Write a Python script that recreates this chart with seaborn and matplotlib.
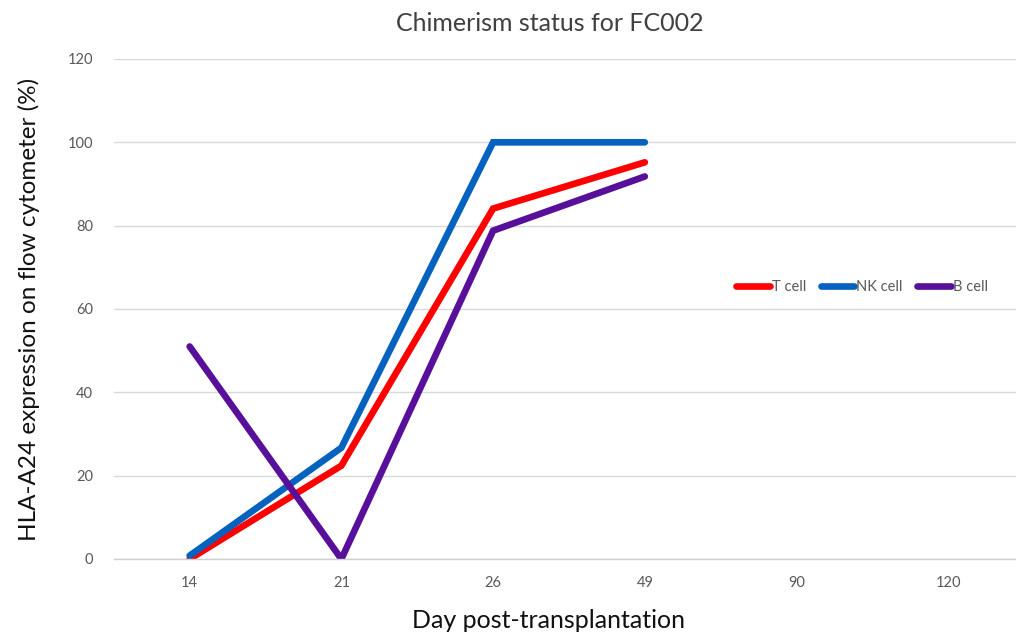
import numpy as np
import pandas as pd
import matplotlib
matplotlib.use("Agg")
import matplotlib.pyplot as plt
import seaborn as sns

# Days after transplantation (category axis) and chimerism values per lineage
days = ["14", "21", "26", "49", "90", "120"]
t_cell = [0.0, 22.4, 84.1, 95.2, np.nan, np.nan]
nk_cell = [0.8, 26.7, 100.0, 100.0, np.nan, np.nan]
b_cell = [51.0, 0.0, 78.8, 91.8, np.nan, np.nan]
series_names = ["T cell", "NK cell", "B cell"]
y_ticks = [0, 20, 40, 60, 80, 100, 120]

colors = {"T cell": "#FF0000", "NK cell": "#0562BE", "B cell": "#58109A"}

sns.set_theme(style="white")
plt.rcParams["font.family"] = ["Lato", "DejaVu Sans"]

pos = np.arange(len(days))
df = pd.DataFrame({
    "pos": np.concatenate([pos, pos, pos]),
    "value": np.concatenate([t_cell, nk_cell, b_cell]),
    "cell": np.repeat(series_names, len(days)),
}).dropna()

fig = plt.figure(figsize=(10.16, 6.39), dpi=100)
ax = fig.add_axes([0.112, 0.1252, 0.896, 0.7825])

sns.lineplot(data=df, x="pos", y="value", hue="cell", hue_order=series_names,
             palette=colors, linewidth=4.8, ax=ax, legend=False,
             solid_capstyle="round", solid_joinstyle="miter")

ax.set_xlim(-0.5, len(days) - 0.5)
ax.set_ylim(0, 120)
ax.set_xticks(pos)
ax.set_xticklabels(days)
ax.set_yticks(y_ticks)
ax.tick_params(axis="both", length=0, labelsize=10.5, labelcolor="#595959", pad=12)
ax.tick_params(axis="y", pad=15)

ax.grid(axis="y", color="#D9D9D9", linewidth=1.0)
ax.grid(axis="x", visible=False)
ax.set_axisbelow(True)
for side in ["top", "right", "left"]:
    ax.spines[side].set_visible(False)
ax.spines["bottom"].set_color("#D0D0D0")
ax.spines["bottom"].set_linewidth(1.0)

ax.set_title("Chimerism status for FC002", fontsize=18, color="#404040", pad=20,
             x=0.479)
ax.set_xlabel("Day post-transplantation", fontsize=18, color="#111111", labelpad=14,
              x=0.478)
ax.set_ylabel("HLA-A24 expression on flow cytometer (%)", fontsize=17.5,
              color="#111111", labelpad=20)

handles = [plt.Line2D([], [], color=colors[n], linewidth=4.8, solid_capstyle="round")
           for n in series_names]
ax.legend(handles, series_names, loc="center", bbox_to_anchor=(0.822, 0.544),
          ncol=3, frameon=False, fontsize=10.5, handlelength=2.3,
          handletextpad=0.15, columnspacing=1.0, labelcolor="#595959")

fig.savefig("out.png", dpi=100)
